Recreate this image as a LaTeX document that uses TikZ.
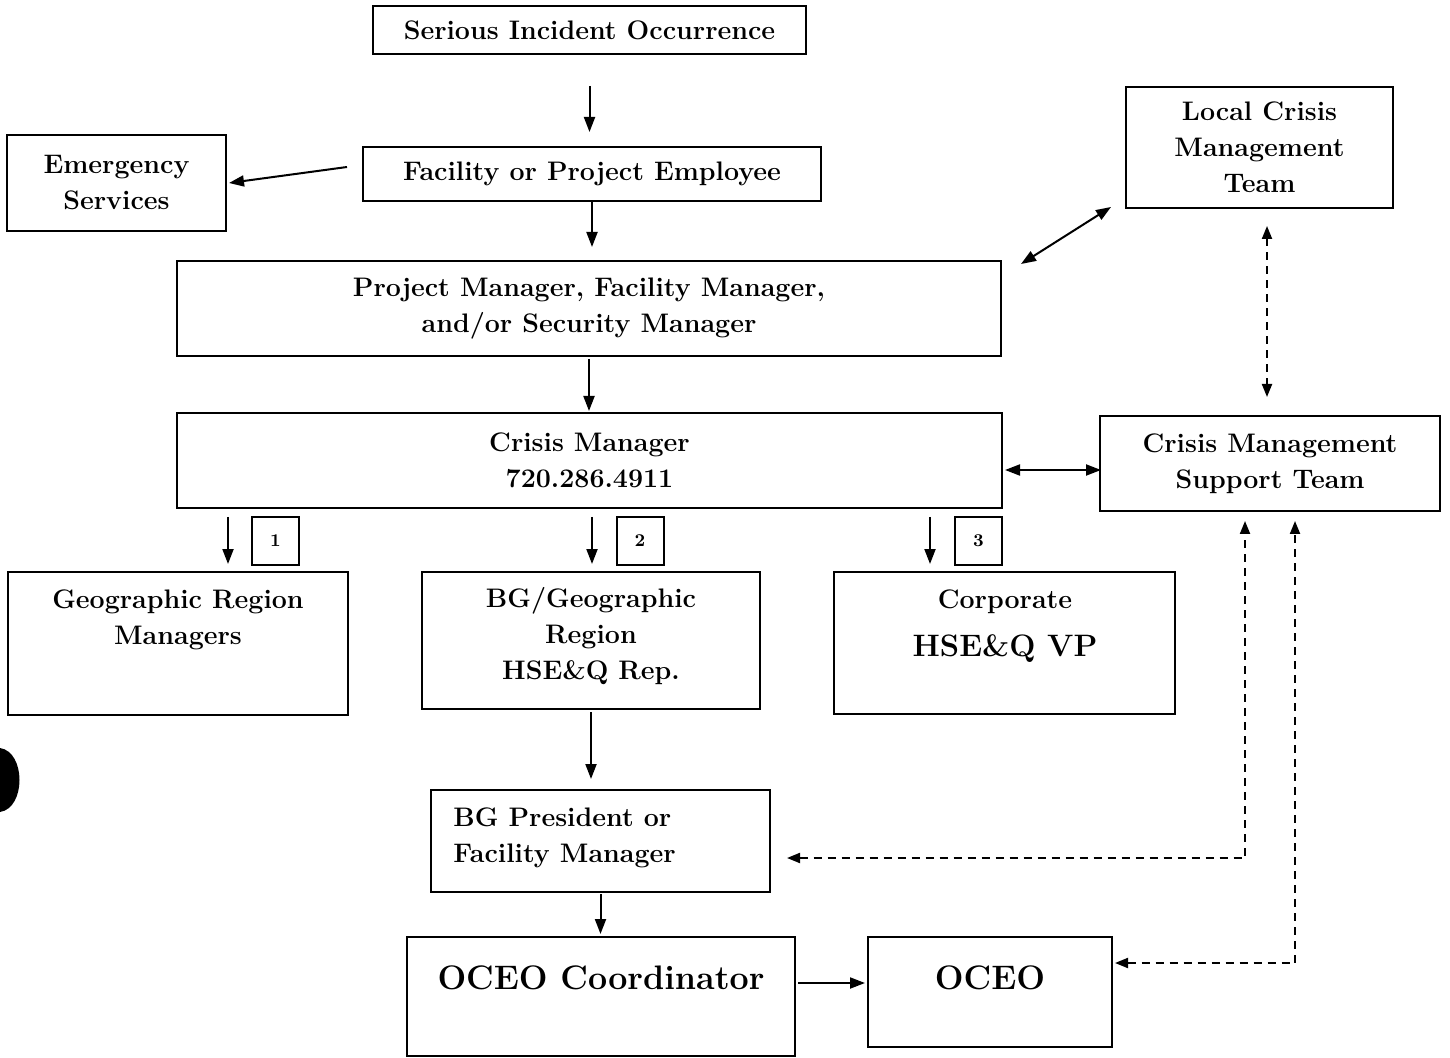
\documentclass[tikz,border=0pt]{standalone}
\usetikzlibrary{arrows.meta}

\tikzset{
  box/.style={draw, line width=1pt, rectangle, inner sep=0pt},
  lbl/.style={font=\bfseries\fontsize{13.4}{18}\selectfont, align=center, inner sep=0pt},
  biglbl/.style={font=\bfseries\fontsize{17}{20}\selectfont, align=center, inner sep=0pt},
  numbox/.style={box, minimum width=23.5pt, minimum height=24pt, font=\bfseries\fontsize{9}{10}\selectfont},
  arr/.style={line width=1pt, -{Triangle[length=7.5pt,width=5.5pt]}},
  dblarr/.style={line width=1pt, {Triangle[length=7.5pt,width=5.5pt]}-{Triangle[length=7.5pt,width=5.5pt]}},
  dasharr/.style={line width=1pt, dash pattern=on 4pt off 3pt, {Triangle[length=6.5pt,width=5pt]}-{Triangle[length=6.5pt,width=5pt]}}
}

\begin{document}
\begin{tikzpicture}[x=0.5pt,y=-0.5pt]
  \useasboundingbox (0,0) rectangle (1450,1058);

  %Shape: top chain
  \node[box, lbl, minimum width=216.5pt, minimum height=24pt] (sio) at (589.5,30) {Serious Incident Occurrence};
  \node[box, lbl, minimum width=229pt, minimum height=27pt] (fpe) at (592,174) {Facility or Project Employee};
  \node[box, lbl, minimum width=109.5pt, minimum height=48pt] (emg) at (116.5,183) {Emergency\\Services};
  \node[box, lbl, minimum width=412pt, minimum height=47.5pt] (pm) at (589,308.5) {Project Manager, Facility Manager,\\and/or Security Manager};
  \node[box, lbl, minimum width=412.5pt, minimum height=47.5pt] (cm) at (589.5,460.5) {Crisis Manager\\720.286.4911};

  %Shape: teams on the right
  \node[box, lbl, minimum width=133.5pt, minimum height=60.5pt] (lcmt) at (1259.5,147.5) {Local Crisis\\Management\\Team};
  \node[box, lbl, minimum width=170pt, minimum height=47.5pt] (cmst) at (1270,463.5) {Crisis Management\\Support Team};

  %Shape: second level
  \node[box, minimum width=170pt, minimum height=71.5pt] (grm) at (178,643.5) {};
  \node[box, minimum width=169pt, minimum height=68.5pt] (bgr) at (591,640.5) {};
  \node[box, minimum width=170.5pt, minimum height=71pt] (corp) at (1004.5,643) {};
  \node[numbox] (n1) at (275.5,541) {1};
  \node[numbox] (n2) at (640,541) {2};
  \node[numbox] (n3) at (978.5,541) {3};

  % Text Node
  \node[lbl] (grmtxt) at (178,619.5) {Geographic Region\\Managers};
  \node[lbl] (bgrtxt) at (591,636.5) {BG/Geographic\\Region\\HSE\&Q Rep.};
  \node[lbl, anchor=base] (corptxt) at (1005,608) {Corporate};
  \node[font=\bfseries\fontsize{15.5}{18}\selectfont, inner sep=0pt, anchor=base] (hseq) at (1005,656) {HSE\&Q VP};

  %Shape: bottom chain
  \node[box, minimum width=169.5pt, minimum height=51pt] (bgp) at (600.5,841) {};
  \node[lbl, align=left, anchor=west] (bgptxt) at (453,838) {BG President or\\Facility Manager};
  \node[box, minimum width=194pt, minimum height=59.5pt] (ocoord) at (601,996.5) {};
  \node[biglbl] (ocoordtxt) at (601,978) {OCEO Coordinator};
  \node[box, minimum width=122pt, minimum height=55pt] (oceo) at (990,992) {};
  \node[biglbl] (oceotxt) at (990,978) {OCEO};

  %Straight Lines
  \draw[arr, shorten <=15.5pt, shorten >=7pt] (sio.south) -- (sio.south |- fpe.north);
  \draw[arr] ([xshift=-7.5pt,yshift=3.5pt]fpe.west) -- ([xshift=1pt]emg.east);
  \draw[arr, shorten >=6.5pt] (fpe.south) -- (fpe.south |- pm.north);
  \draw[arr, shorten <=1pt, shorten >=0.5pt] (pm.south) -- (pm.south |- cm.north);
  \draw[dblarr] ([xshift=9.5pt,yshift=-2pt]pm.north east) -- ([xshift=-7pt,yshift=1pt]lcmt.south west);
  \draw[dasharr] ([xshift=3.75pt,yshift=-8.5pt]lcmt.south) -- ([xshift=-1.5pt,yshift=9pt]cmst.north);
  \draw[dblarr] ([xshift=1pt,yshift=-4.75pt]cm.east) -- ([xshift=1pt,yshift=-4.75pt]cm.east -| cmst.west);

  % down to second level
  \draw[arr] ([xshift=25pt,yshift=27pt]grm.north) -- ([xshift=25pt,yshift=3.5pt]grm.north);
  \draw[arr] ([xshift=0.5pt,yshift=27pt]bgr.north) -- ([xshift=0.5pt,yshift=3.5pt]bgr.north);
  \draw[arr] ([xshift=-37.25pt,yshift=27pt]corp.north) -- ([xshift=-37.25pt,yshift=3.5pt]corp.north);

  % down to bottom chain
  \draw[arr, shorten >=6pt] ([yshift=-1pt]bgr.south) -- ([yshift=-1pt]bgr.south |- bgp.north);
  \draw[arr, shorten <=0.5pt, shorten >=1pt] (bgp.south) -- (bgp.south |- ocoord.north);
  \draw[arr] ([xshift=1pt,yshift=6.75pt]ocoord.east) -- ([xshift=-1pt,yshift=6.75pt]ocoord.east -| oceo.west);

  % dashed returns from support team
  \draw[dasharr] ([xshift=8pt,yshift=-8.5pt]bgp.east) -| ([xshift=-12.5pt,yshift=-4.5pt]cmst.south);
  \draw[dasharr] ([xshift=1pt,yshift=14.5pt]oceo.east) -| ([xshift=12.5pt,yshift=-4.5pt]cmst.south);

  % scan mark on the left edge
  \fill (0,748) .. controls (26,752) and (26,808) .. (0,812) -- cycle;
\end{tikzpicture}
\end{document}
